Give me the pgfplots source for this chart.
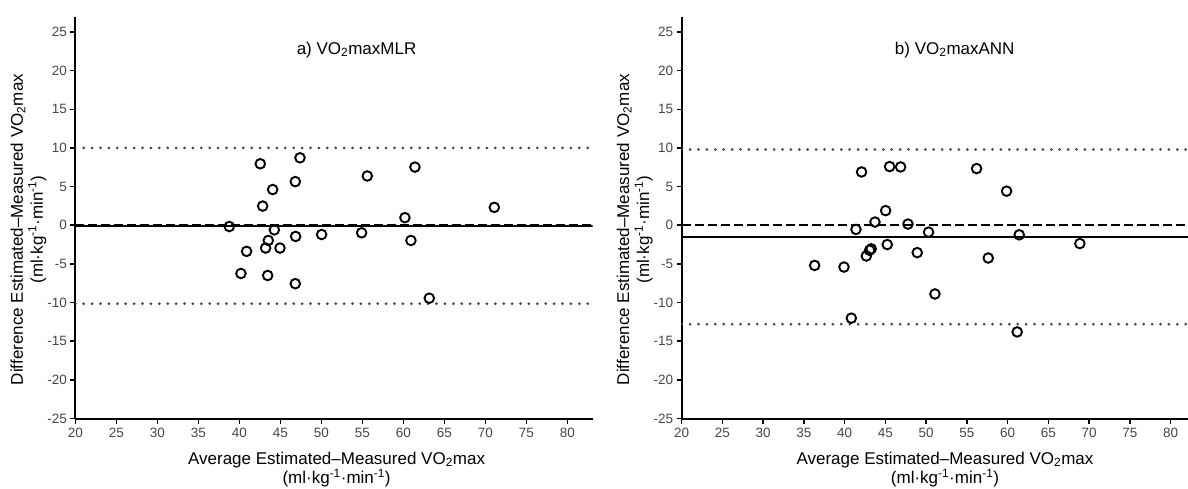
\documentclass[border=0pt]{standalone}
\usepackage{fontspec}
\setmainfont{Liberation Sans}
\usepackage{pgfplots}
\usepackage{pgfplotstable}
\pgfplotsset{compat=1.18}

\pgfplotstableread{
x y
38.78 -0.17
42.56 7.95
47.40 8.72
44.07 4.62
46.83 5.64
42.85 2.48
55.61 6.37
61.42 7.52
71.10 2.31
60.20 0.98
44.27 -0.60
46.87 -1.45
50.04 -1.20
54.92 -0.98
43.54 -1.97
60.93 -1.97
40.89 -3.38
43.21 -2.95
44.96 -2.95
40.20 -6.24
43.46 -6.50
46.83 -7.56
63.17 -9.44
}\mlr

\pgfplotstableread{
x y
42.07 6.89
45.51 7.59
46.86 7.54
56.18 7.33
59.86 4.41
45.02 1.89
43.71 0.41
47.76 0.15
41.38 -0.54
50.29 -0.89
61.41 -1.24
45.22 -2.50
68.85 -2.37
43.05 -3.24
43.25 -3.05
42.65 -3.98
48.90 -3.54
57.61 -4.24
36.31 -5.20
39.91 -5.41
51.07 -8.89
40.81 -12.02
61.16 -13.80
}\ann

\pgfplotsset{
  ba/.style={
    scale only axis, height=402pt,
    ymin=-25, ymax=27, xmin=20,
    axis x line*=bottom, axis y line*=left,
    axis line style={line width=2pt, black},
    tick align=outside, major tick length=5pt,
    tick style={line width=1.5pt, black},
    xtick={20,25,...,80}, ytick={-25,-20,...,25},
    xticklabels={20,25,30,35,40,45,50,55,60,65,70,75,80},
    yticklabels={-25,-20,-15,-10,-5,0,5,10,15,20,25},
    tick label style={font=\fontsize{13.5}{15}\selectfont, text=black!72},
    xticklabel style={yshift=-1pt},
    label style={font=\fontsize{17}{20}\selectfont, align=center},
    ylabel={Difference Estimated–Measured VO\textsubscript{2}max\\(ml·kg\textsuperscript{-1}·min\textsuperscript{-1})},
    xlabel={Average Estimated–Measured VO\textsubscript{2}max\\[-1pt](ml·kg\textsuperscript{-1}·min\textsuperscript{-1})},
  },
  dots/.style={black!72, line width=3pt, dash pattern=on 0pt off 8.4pt, line cap=round},
  dsh/.style={black, line width=2pt, dash pattern=on 9pt off 4pt},
  sol/.style={black, line width=1.8pt},
  pts/.style={only marks, mark=o, mark size=4.8pt, mark options={line width=1.9pt, black}},
}

\begin{document}
\begin{tikzpicture}[x=1pt,y=1pt]
\useasboundingbox (0,0) rectangle (1188,488);
\begin{axis}[ba, at={(75.3pt,69.5pt)}, anchor=south west, width=517.4pt, xmax=83.1,
  ylabel style={at={(axis description cs:-0.0907,0.47)}, anchor=center},
  xlabel style={at={(axis description cs:0.505,0)}, yshift=-51pt, anchor=center}]
  \addplot[dots] coordinates {(20,10.0) (83.1,10.0)};
  \addplot[dots] coordinates {(20,-10.15) (83.1,-10.15)};
  \addplot[sol] coordinates {(20,-0.15) (83.1,-0.15)};
  \addplot[dsh] coordinates {(20,0) (83.1,0)};
  \addplot[pts] table {\mlr};
  \node[font=\fontsize{17}{20}\selectfont] at (axis cs:54.3,22.7) {a) VO\textsubscript{2}maxMLR};
\end{axis}
\begin{axis}[ba, at={(681.7pt,69.5pt)}, anchor=south west, width=506.3pt, xmax=82.12,
  ylabel style={at={(axis description cs:-0.0928,0.47)}, anchor=center},
  xlabel style={at={(axis description cs:0.52,0)}, yshift=-51pt, anchor=center}]
  \addplot[dots] coordinates {(20,9.8) (82.12,9.8)};
  \addplot[dots] coordinates {(20,-12.8) (82.12,-12.8)};
  \addplot[dsh] coordinates {(20,0) (82.12,0)};
  \addplot[sol] coordinates {(20,-1.55) (82.12,-1.55)};
  \addplot[pts] table {\ann};
  \node[font=\fontsize{17}{20}\selectfont] at (axis cs:53.5,22.7) {b) VO\textsubscript{2}maxANN};
\end{axis}
\end{tikzpicture}
\end{document}
